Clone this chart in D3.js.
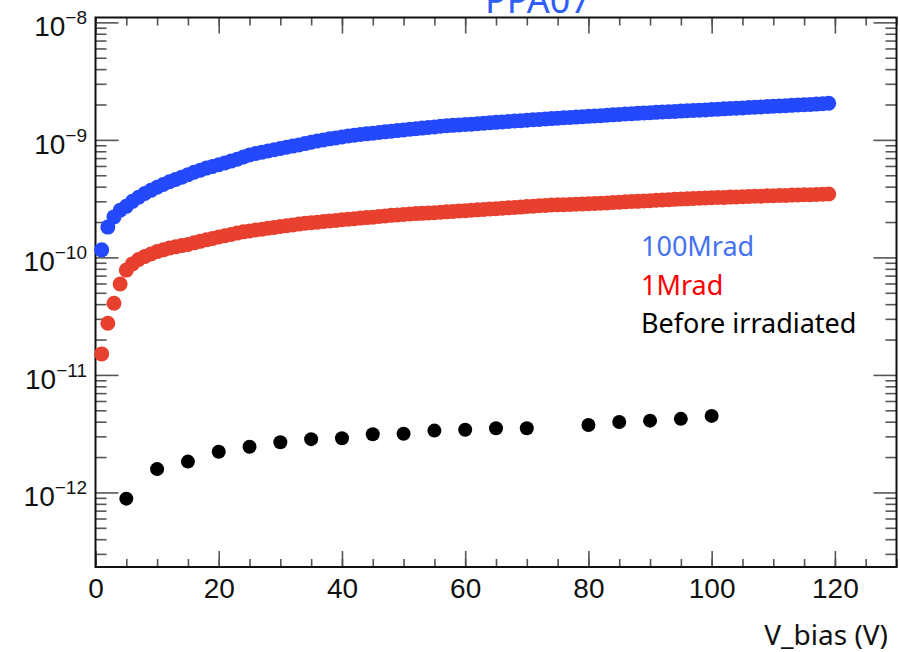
<!DOCTYPE html>
<html>
<head>
<meta charset="utf-8">
<script src="https://cdn.jsdelivr.net/npm/d3@7"></script>
<style>
  body { margin: 0; background: #fff; }
  #chart { width: 900px; height: 652px; }
</style>
</head>
<body>
<div id="chart"></div>
<script>
// Leakage current vs bias voltage (currents in pA)
const sweepV = [
  1, 2, 3, 4, 5, 6, 7, 8, 9, 10, 11, 12, 13, 14, 15, 16, 17, 18, 19, 20,
  21, 22, 23, 24, 25, 26, 27, 28, 29, 30, 31, 32, 33, 34, 35, 36, 37, 38, 39, 40,
  41, 42, 43, 44, 45, 46, 47, 48, 49, 50, 51, 52, 53, 54, 55, 56, 57, 58, 59, 60,
  61, 62, 63, 64, 65, 66, 67, 68, 69, 70, 71, 72, 73, 74, 75, 76, 77, 78, 79, 80,
  81, 82, 83, 84, 85, 86, 87, 88, 89, 90, 91, 92, 93, 94, 95, 96, 97, 98, 99, 100,
  101, 102, 103, 104, 105, 106, 107, 108, 109, 110, 111, 112, 113, 114, 115, 116, 117, 118, 119
];

const current100Mrad = [
  116, 181, 221, 252, 272, 300, 325, 350, 372, 395, 418, 440, 461, 482, 505, 530, 552, 575, 595, 615,
  635, 660, 685, 715, 745, 765, 785, 805, 825, 845, 865, 885, 906, 930, 955, 980, 1000, 1020, 1040, 1060,
  1080, 1095, 1110, 1125, 1140, 1155, 1170, 1185, 1200, 1215, 1230, 1245, 1260, 1275, 1290, 1305, 1320, 1330, 1340, 1350,
  1360, 1372, 1385, 1398, 1410, 1422, 1434, 1446, 1458, 1470, 1482, 1494, 1506, 1518, 1530, 1541, 1552, 1563, 1574, 1585,
  1597, 1608, 1620, 1633, 1646, 1660, 1671, 1682, 1693, 1704, 1715, 1726, 1737, 1748, 1758, 1768, 1779, 1790, 1800, 1812,
  1824, 1836, 1848, 1860, 1872, 1884, 1896, 1908, 1920, 1932, 1944, 1956, 1968, 1980, 1992, 2004, 2016, 2028, 2050
];

const current1Mrad = [
  15.1, 27.5, 40.7, 59.4, 78, 88, 96, 102, 107, 112, 116, 120, 123, 126, 129, 133, 137, 141, 145, 149,
  153, 157, 161, 165, 168, 171, 174, 177, 180, 183, 186, 189, 192, 195, 197, 199, 202, 204, 206, 209,
  211, 213, 216, 218, 220, 223, 225, 228, 230, 232, 234, 236, 237, 239, 240, 242, 244, 246, 248, 250,
  252, 254, 256, 258, 260, 262, 264, 266, 268, 271, 273, 275, 277, 279, 280, 281, 282, 284, 285, 286,
  288, 289, 291, 293, 295, 297, 299, 300, 302, 304, 306, 308, 310, 312, 314, 315, 317, 319, 320, 322,
  323, 324, 326, 327, 328, 330, 331, 332, 334, 335, 336, 337, 339, 340, 341, 342, 343, 345, 346
];

const preV = [5, 10, 15, 20, 25, 30, 35, 40, 45, 50, 55, 60, 65, 70, 80, 85, 90, 95, 100];
const currentPre = [0.885, 1.58, 1.83, 2.22, 2.45, 2.67, 2.84, 2.89, 3.13, 3.16, 3.36, 3.42, 3.52, 3.52, 3.75, 3.98, 4.08, 4.23, 4.48];

const xTicks = [0, 20, 40, 60, 80, 100, 120];
const yDecades = [-12, -11, -10, -9, -8];
const legendLabels = ["100Mrad", "1Mrad", "Before irradiated"];
const legendColors = ["#4472f4", "#ff0000", "#000000"];
const chartTitle = "PPA07";
const xTitle = "V_bias (V)";

const W = 900, H = 652;
const frame = { left: 95.5, right: 896.5, top: 17.5, bottom: 567 };

const svg = d3.select("#chart").append("svg")
    .attr("width", W)
    .attr("height", H)
    .style("background", "#fff");

const x = d3.scaleLinear().domain([0, 130]).range([frame.left, frame.right]);
const y = d3.scaleLog().domain([2.32e-13, 1.10e-8]).range([frame.bottom, frame.top]);

const pA = 1e-12;

// Title (mostly cut off at the top)
svg.append("text")
    .attr("x", 485)
    .attr("y", 13)
    .attr("font-family", "'Noto Sans', sans-serif")
    .attr("font-size", 36)
    .attr("fill", "#2f5ef6")
    .text(chartTitle);

// Axis ticks, all drawn inward like ROOT
const tickStyle = g => {
    g.select(".domain").remove();
    g.selectAll("line").attr("stroke", "#555").attr("stroke-width", 1.6);
};

const xMinor = d3.range(0, 131, 5);
const allY = y.ticks();
const yMajor = allY.filter(v => Math.abs(Math.log10(v) - Math.round(Math.log10(v))) < 1e-6);
const yMinor = allY.filter(v => !yMajor.includes(v));

svg.append("g").attr("transform", `translate(0,${frame.bottom})`)
    .call(d3.axisBottom(x).tickValues(xMinor).tickSize(-8).tickFormat(""))
    .call(tickStyle);
svg.append("g").attr("transform", `translate(0,${frame.top})`)
    .call(d3.axisTop(x).tickValues(xMinor).tickSize(-8).tickFormat(""))
    .call(tickStyle);
svg.append("g").attr("transform", `translate(0,${frame.top})`)
    .call(d3.axisTop(x).tickValues(xTicks).tickSize(-16).tickFormat(""))
    .call(tickStyle);

const xAxis = svg.append("g").attr("transform", `translate(0,${frame.bottom})`)
    .call(d3.axisBottom(x).tickValues(xTicks).tickSize(-16).tickPadding(11).tickFormat(d3.format("d")))
    .call(tickStyle);
xAxis.selectAll("text")
    .attr("font-family", "'Liberation Sans', Arial, sans-serif")
    .attr("font-size", 28)
    .attr("fill", "#111");

svg.append("g").attr("transform", `translate(${frame.left},0)`)
    .call(d3.axisLeft(y).tickValues(yMinor).tickSize(-11).tickFormat(""))
    .call(tickStyle);
svg.append("g").attr("transform", `translate(${frame.left},0)`)
    .call(d3.axisLeft(y).tickValues(yMajor).tickSize(-23).tickFormat(""))
    .call(tickStyle);
svg.append("g").attr("transform", `translate(${frame.right},0)`)
    .call(d3.axisRight(y).tickValues(yMinor).tickSize(-11).tickFormat(""))
    .call(tickStyle);
svg.append("g").attr("transform", `translate(${frame.right},0)`)
    .call(d3.axisRight(y).tickValues(yMajor).tickSize(-23).tickFormat(""))
    .call(tickStyle);

// Y labels as 10^n
const yLab = svg.append("g")
    .attr("font-family", "'Liberation Sans', Arial, sans-serif")
    .attr("fill", "#111");
yDecades.forEach(p => {
    const t = yLab.append("text")
        .attr("x", 87)
        .attr("y", y(Math.pow(10, p)) + 14)
        .attr("text-anchor", "end");
    t.append("tspan").attr("font-size", 28).text("10");
    t.append("tspan").attr("font-size", 19).attr("dy", -12).text("\u2212" + Math.abs(p));
});

// Frame
svg.append("rect")
    .attr("x", frame.left)
    .attr("y", frame.top)
    .attr("width", frame.right - frame.left)
    .attr("height", frame.bottom - frame.top)
    .attr("fill", "none")
    .attr("stroke", "#111")
    .attr("stroke-width", 2);

// Data
const plot = svg.append("g");

plot.append("g").selectAll("circle")
    .data(sweepV.map((v, i) => [v, current1Mrad[i]]))
    .join("circle")
    .attr("cx", d => x(d[0]))
    .attr("cy", d => y(d[1] * pA))
    .attr("r", 7.5)
    .attr("fill", "#e8402f");

plot.append("g").selectAll("circle")
    .data(sweepV.map((v, i) => [v, current100Mrad[i]]))
    .join("circle")
    .attr("cx", d => x(d[0]))
    .attr("cy", d => y(d[1] * pA))
    .attr("r", 7.5)
    .attr("fill", "#2448fb");

plot.append("g").selectAll("circle")
    .data(preV.map((v, i) => [v, currentPre[i]]))
    .join("circle")
    .attr("cx", d => x(d[0]))
    .attr("cy", d => y(d[1] * pA))
    .attr("r", 7)
    .attr("fill", "#000");

// Legend text
svg.append("g").selectAll("text")
    .data(legendLabels)
    .join("text")
    .attr("x", 641)
    .attr("y", (d, i) => 256 + i * 38.5)
    .attr("font-family", "'Noto Sans', sans-serif")
    .attr("font-size", 27)
    .attr("fill", (d, i) => legendColors[i])
    .text(d => d);

// X axis title
svg.append("text")
    .attr("x", 888)
    .attr("y", 645)
    .attr("text-anchor", "end")
    .attr("font-family", "'Noto Sans', sans-serif")
    .attr("font-size", 28)
    .attr("fill", "#111")
    .text(xTitle);
</script>
</body>
</html>
